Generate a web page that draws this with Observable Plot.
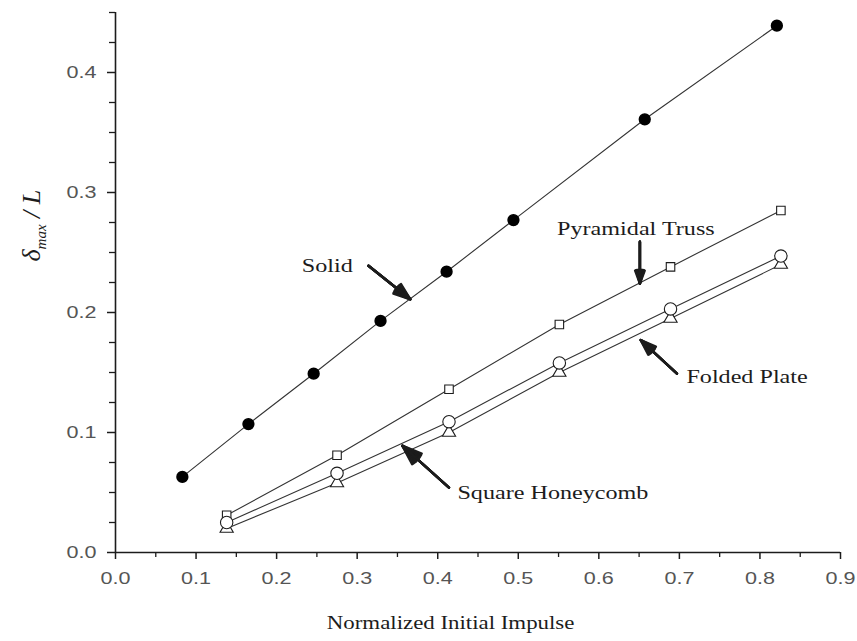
<!DOCTYPE html>
<html>
<head>
<meta charset="utf-8">
<script src="https://cdn.jsdelivr.net/npm/d3@7"></script>
<script src="https://cdn.jsdelivr.net/npm/@observablehq/plot@0.6"></script>
<style>
  html, body { margin: 0; padding: 0; background: #fff; }
  #chart svg { display: block; }
  #chart [aria-label="x-axis tick label"] text,
  #chart [aria-label="y-axis tick label"] text { fill: #555; }
</style>
</head>
<body>
<div id="chart"></div>
<script>
// Maximum back-face deflection (normalized by span L) versus normalized initial impulse
const solidImpulse    = [0.083, 0.165, 0.246, 0.329, 0.411, 0.494, 0.657, 0.821];
const solidDeflection = [0.063, 0.107, 0.149, 0.193, 0.234, 0.277, 0.361, 0.439];

const coreImpulse     = [0.138, 0.275, 0.414, 0.551, 0.689, 0.826];
const pyramidalTruss  = [0.031, 0.081, 0.136, 0.190, 0.238, 0.285];
const squareHoneycomb = [0.025, 0.066, 0.109, 0.158, 0.203, 0.247];
const foldedPlate     = [0.020, 0.058, 0.100, 0.150, 0.195, 0.240];

const xMajorTicks = [0, 0.1, 0.2, 0.3, 0.4, 0.5, 0.6, 0.7, 0.8, 0.9];
const xMinorTicks = [0.05, 0.15, 0.25, 0.35, 0.45, 0.55, 0.65, 0.75, 0.85];
const yMajorTicks = [0, 0.1, 0.2, 0.3, 0.4];
const yMinorTicks = [0.025, 0.05, 0.075, 0.125, 0.15, 0.175, 0.225, 0.25, 0.275,
                     0.325, 0.35, 0.375, 0.425, 0.45];

const xTitle = "Normalized Initial Impulse";
const yTitle = "δmax / L";

// Callout labels and their pointer arrows, in data units
const calloutText = ["Solid", "Pyramidal Truss", "Square Honeycomb", "Folded Plate"];
const calloutX    = [0.263, 0.646, 0.543, 0.784];
const calloutY    = [0.239, 0.270, 0.050, 0.146];
const arrowFromX  = [0.314, 0.651, 0.414, 0.697];
const arrowFromY  = [0.239, 0.259, 0.054, 0.149];
const arrowToX    = [0.366, 0.651, 0.356, 0.652];
const arrowToY    = [0.211, 0.224, 0.089, 0.177];

const solid = solidImpulse.map((x, i) => ({x, y: solidDeflection[i]}));
const pyr   = coreImpulse.map((x, i) => ({x, y: pyramidalTruss[i]}));
const honey = coreImpulse.map((x, i) => ({x, y: squareHoneycomb[i]}));
const fold  = coreImpulse.map((x, i) => ({x, y: foldedPlate[i]}));
const callouts = calloutText.map((t, i) => ({
  t, x: calloutX[i], y: calloutY[i],
  x1: arrowFromX[i], y1: arrowFromY[i], x2: arrowToX[i], y2: arrowToY[i]
}));

const serif = "'Liberation Serif', 'Times New Roman', serif";
const sans  = "'Liberation Sans', Arial, sans-serif";
const ink = "#1c1c1c";

// Filled-looking arrowheads: several heads of increasing spread, stacked
const arrowLayers = [8, 16, 24, 32, 40].map(a =>
  Plot.arrow(callouts, {x1: "x1", y1: "y1", x2: "x2", y2: "y2",
    stroke: ink, strokeWidth: 2.4, headLength: 15, headAngle: a})
);

const chart = Plot.plot({
  width: 857,
  height: 641,
  marginLeft: 115,
  marginRight: 17,
  marginTop: 12,
  marginBottom: 89,
  style: {fontFamily: sans, fontSize: "17px", background: "#fff", color: ink},
  x: {domain: [0, 0.9]},
  y: {domain: [0, 0.45]},
  marks: [
    Plot.axisX(xMinorTicks, {tickSize: 5, tickFormat: () => "", stroke: ink, strokeWidth: 1.3}),
    Plot.axisX(xMajorTicks, {tickSize: 7, tickPadding: 12, tickFormat: d3.format(".1f"),
      stroke: ink, strokeWidth: 1.5, label: null, fontSize: 17}),
    Plot.axisY(yMinorTicks, {tickSize: 6, tickFormat: () => "", stroke: ink, strokeWidth: 1.3}),
    Plot.axisY(yMajorTicks, {tickSize: 8, tickPadding: 11, tickFormat: d3.format(".1f"),
      stroke: ink, strokeWidth: 1.5, label: null, fontSize: 17}),
    Plot.ruleX([0], {y1: 0, y2: 0.45, stroke: ink, strokeWidth: 1.6}),
    Plot.ruleY([0], {x1: 0, x2: 0.9, stroke: ink, strokeWidth: 1.6}),

    Plot.line(solid, {x: "x", y: "y", stroke: "#333", strokeWidth: 1.1}),
    Plot.line(pyr,   {x: "x", y: "y", stroke: "#333", strokeWidth: 1.1}),
    Plot.line(honey, {x: "x", y: "y", stroke: "#333", strokeWidth: 1.1}),
    Plot.line(fold,  {x: "x", y: "y", stroke: "#333", strokeWidth: 1.1}),

    Plot.dot(solid, {x: "x", y: "y", r: 5.4, fill: "#000", stroke: "#000"}),
    Plot.dot(pyr,   {x: "x", y: "y", symbol: "square", r: 4.8, fill: "#fff", stroke: ink, strokeWidth: 1.1}),
    Plot.dot(fold,  {x: "x", y: "y", symbol: "triangle", r: 4.9, fill: "#fff", stroke: ink, strokeWidth: 1.1}),
    Plot.dot(honey, {x: "x", y: "y", r: 6.2, fill: "#fff", stroke: ink, strokeWidth: 1.1}),

    ...arrowLayers,
    Plot.text(callouts, {x: "x", y: "y", text: "t", fontFamily: serif, fontSize: 19, fill: ink}),

    Plot.text([xTitle], {x: () => 0.416, frameAnchor: "bottom", dy: 76, fontFamily: serif, fontSize: 18, fill: ink}),
    Plot.text([yTitle], {frameAnchor: "left", dx: -84, dy: -21, rotate: -90,
      fontFamily: serif, fontStyle: "italic", fontSize: 26, fill: ink})
  ]
});

document.getElementById("chart").appendChild(chart);

// Subscript for the y-axis title
d3.select(chart).selectAll("text").filter(function () { return this.textContent === yTitle; })
  .each(function () {
    const t = d3.select(this);
    t.text("");
    t.append("tspan").text("δ");
    t.append("tspan").text("max").attr("font-size", 15).attr("dy", 6);
    t.append("tspan").text(" / L").attr("dy", -6);
  });

// Widen the lettering to the chart's broad typeface proportions
d3.select(chart).selectAll("text").each(function () {
  if (this.textContent.trim() === "" || this.textContent.startsWith("δ")) return;
  const len = this.getComputedTextLength();
  this.setAttribute("textLength", (len * 1.27).toFixed(1));
  this.setAttribute("lengthAdjust", "spacingAndGlyphs");
});
</script>
</body>
</html>
